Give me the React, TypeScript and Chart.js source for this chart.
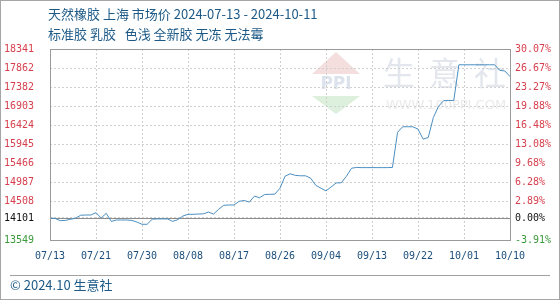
import React, { useEffect, useRef } from 'react';
import { Chart, registerables } from 'chart.js';

Chart.register(...registerables);

const titleText = '天然橡胶 上海 市场价 2024-07-13 - 2024-10-11';
const subtitleText = '标准胶 乳胶   色浅 全新胶 无冻 无法霉';
const footerText = '© 2024.10 生意社';
const watermarkChars = ['生', '意', '社'];
const watermarkUrl = 'WWW.100PPI.COM';

const baseValue = 14101;

const prices = [
  14101, 14090, 14034, 14040, 14070, 14095, 14170, 14176, 14176, 14234,
  14100, 14219, 14015, 14051, 14051, 14051, 14040, 14000, 13943, 13943,
  14070, 14078, 14078, 14078, 14015, 14060, 14150, 14194, 14194, 14200,
  14205, 14250, 14200, 14320, 14420, 14427, 14427, 14520, 14540, 14500,
  14650, 14610, 14690, 14695, 14700, 14850, 15150, 15210, 15170, 15160,
  15160, 15100, 14920, 14850, 14780, 14880, 14980, 14985, 15150, 15350,
  15370, 15365, 15365, 15365, 15365, 15365, 15365, 15370, 16250, 16390,
  16390, 16390, 16330, 16080, 16120, 16620, 16900, 17045, 17050, 17050,
  17945, 17945, 17945, 17945, 17945, 17945, 17945, 17945, 17805, 17790,
  17650,
];

const xTickIndexes = [0, 9, 18, 27, 36, 45, 54, 63, 72, 81, 90];
const xTickLabels = ['07/13', '07/21', '07/30', '08/08', '08/17', '08/26', '09/04', '09/13', '09/22', '10/01', '10/10'];

const yTickValues = [13549, 14101, 14508, 14987, 15466, 15945, 16424, 16903, 17382, 17862, 18341];
const yTickLabels = ['13549', '14101', '14508', '14987', '15466', '15945', '16424', '16903', '17382', '17862', '18341'];
const pctTickLabels = ['-3.91%', '0.00%', '2.89%', '6.28%', '9.68%', '13.08%', '16.48%', '19.88%', '23.27%', '26.67%', '30.07%'];

const BLUE_TEXT = '#1d5a87';
const LINE_COLOR = '#4b8fc2';
const GRID_COLOR = '#d0d0d0';
const FRAME_COLOR = '#9a9a9a';
const CJK = '"Noto Sans CJK SC", "Noto Sans", sans-serif';
const MONO = '"DejaVu Sans Mono", "Liberation Mono", monospace';

const tickColor = (v: number) => (v > baseValue ? '#d6404e' : v < baseValue ? '#3c9a3c' : '#111111');

const decorPlugin = {
  id: 'decor',
  beforeDraw(chart: any) {
    const ctx = chart.ctx;
    ctx.save();
    ctx.fillStyle = '#ffffff';
    ctx.fillRect(0, 0, chart.width, chart.height);
    // watermark logo
    ctx.fillStyle = '#f5dede';
    ctx.beginPath();
    ctx.moveTo(312, 74);
    ctx.lineTo(336, 52);
    ctx.lineTo(360, 74);
    ctx.closePath();
    ctx.fill();
    ctx.fillStyle = '#dde3ec';
    ctx.font = 'bold 17px "DejaVu Sans", sans-serif';
    ctx.textAlign = 'center';
    ctx.textBaseline = 'middle';
    ctx.fillText('PPI', 336, 85);
    ctx.fillStyle = '#ddefdd';
    ctx.beginPath();
    ctx.moveTo(312, 96);
    ctx.lineTo(360, 96);
    ctx.lineTo(336, 114);
    ctx.closePath();
    ctx.fill();
    // watermark text
    ctx.fillStyle = '#e3e7ed';
    ctx.font = '32px ' + CJK;
    const xs = [399, 445, 490];
    watermarkChars.forEach((c, i) => ctx.fillText(c, xs[i], 73));
    ctx.fillStyle = '#eaeaea';
    ctx.font = '13px "DejaVu Sans", sans-serif';
    ctx.fillText(watermarkUrl, 446, 106);
    ctx.restore();
  },
  beforeDatasetsDraw(chart: any) {
    const ctx = chart.ctx;
    const area = chart.chartArea;
    const y = Math.round(chart.scales.y.getPixelForValue(baseValue)) + 0.5;
    ctx.save();
    ctx.strokeStyle = '#8c8c8c';
    ctx.lineWidth = 1;
    ctx.beginPath();
    ctx.moveTo(area.left, y);
    ctx.lineTo(area.right, y);
    ctx.stroke();
    ctx.restore();
  },
  afterDraw(chart: any) {
    const ctx = chart.ctx;
    const area = chart.chartArea;
    ctx.save();
    ctx.strokeStyle = FRAME_COLOR;
    ctx.lineWidth = 1;
    ctx.strokeRect(Math.round(area.left) + 0.5, Math.round(area.top) + 0.5, Math.round(area.right - area.left), Math.round(area.bottom - area.top));
    // outer border
    ctx.strokeStyle = '#a6a6a6';
    ctx.strokeRect(0.5, 0.5, chart.width - 1, chart.height - 1);
    // footer separator
    ctx.strokeStyle = '#a0a0a0';
    ctx.beginPath();
    ctx.moveTo(10, 275.5);
    ctx.lineTo(550, 275.5);
    ctx.stroke();
    // texts
    ctx.fillStyle = BLUE_TEXT;
    ctx.font = '13px ' + CJK;
    ctx.textAlign = 'left';
    ctx.textBaseline = 'middle';
    ctx.fillText(titleText, 48, 14);
    ctx.fillText(subtitleText, 48, 34);
    ctx.fillText(footerText, 10, 285);
    ctx.restore();
  },
};

export default function App() {
  const canvasRef = useRef<HTMLCanvasElement | null>(null);

  useEffect(() => {
    if (!canvasRef.current) return;
    const chart = new Chart(canvasRef.current, {
      type: 'line',
      data: {
        datasets: [
          {
            data: prices.map((v, i) => ({ x: i, y: v })),
            borderColor: LINE_COLOR,
            borderWidth: 1,
            pointRadius: 0,
            tension: 0,
            fill: false,
          },
        ],
      },
      options: {
        animation: false,
        responsive: false,
        devicePixelRatio: 1,
        layout: { padding: { left: 4, right: 0, top: 49, bottom: 40 } },
        plugins: { legend: { display: false }, tooltip: { enabled: false }, title: { display: false } },
        scales: {
          x: {
            type: 'linear',
            min: 0,
            max: prices.length - 1,
            afterBuildTicks: (scale: any) => {
              scale.ticks = xTickIndexes.map((v) => ({ value: v }));
            },
            afterFit: (scale: any) => {
              scale.height = 20;
            },
            ticks: {
              autoSkip: false,
              maxRotation: 0,
              padding: 10,
              color: '#1d4f7c',
              font: { family: MONO, size: 10 },
              callback: (value: any) => {
                const k = xTickIndexes.indexOf(Number(value));
                return k >= 0 ? xTickLabels[k] : '';
              },
            },
            grid: { color: GRID_COLOR, drawTicks: false, lineWidth: 1 },
            border: { display: false, dash: [2, 2] },
          },
          y: {
            type: 'linear',
            position: 'left',
            min: yTickValues[0],
            max: yTickValues[yTickValues.length - 1],
            afterBuildTicks: (scale: any) => {
              scale.ticks = yTickValues.map((v) => ({ value: v }));
            },
            afterFit: (scale: any) => {
              scale.width = 46;
            },
            ticks: {
              autoSkip: false,
              crossAlign: 'far',
              padding: 4,
              font: { family: MONO, size: 10 },
              color: (c: any) => tickColor(c.tick.value),
              callback: (value: any) => {
                const k = yTickValues.indexOf(Number(value));
                return k >= 0 ? yTickLabels[k] : '';
              },
            },
            grid: { color: GRID_COLOR, drawTicks: false, lineWidth: 1 },
            border: { display: false, dash: [2, 2] },
          },
          y2: {
            type: 'linear',
            position: 'right',
            min: yTickValues[0],
            max: yTickValues[yTickValues.length - 1],
            afterBuildTicks: (scale: any) => {
              scale.ticks = yTickValues.map((v) => ({ value: v }));
            },
            afterFit: (scale: any) => {
              scale.width = 50;
            },
            ticks: {
              autoSkip: false,
              padding: 5,
              font: { family: MONO, size: 10 },
              color: (c: any) => tickColor(c.tick.value),
              callback: (value: any) => {
                const k = yTickValues.indexOf(Number(value));
                return k >= 0 ? pctTickLabels[k] : '';
              },
            },
            grid: { display: false, drawTicks: false },
            border: { display: false },
          },
        },
      },
      plugins: [decorPlugin],
    } as any);
    return () => chart.destroy();
  }, []);

  return (
    <div style={{ position: 'absolute', left: 0, top: 0, width: 560, height: 300 }}>
      <canvas ref={canvasRef} width={560} height={300} style={{ display: 'block', width: 560, height: 300 }} />
    </div>
  );
}
